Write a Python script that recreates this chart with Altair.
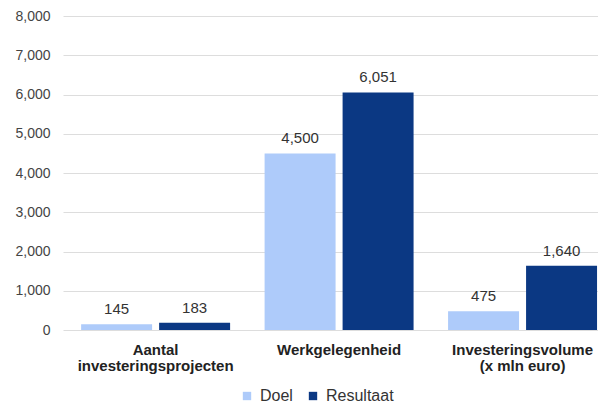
import altair as alt
import pandas as pd

categories = ["Aantal\ninvesteringsprojecten", "Werkgelegenheid", "Investeringsvolume\n(x mln euro)"]
series = ["Doel", "Resultaat"]
doel = [145, 4500, 475]
resultaat = [183, 6051, 1640]
colors = ["#AECBFA", "#0B3883"]

rows = []
for c, d, r in zip(categories, doel, resultaat):
    rows.append({"cat": c, "serie": "Doel", "value": d})
    rows.append({"cat": c, "serie": "Resultaat", "value": r})
df = pd.DataFrame(rows)

font = "Liberation Sans"

base = alt.Chart(df).encode(
    x=alt.X("cat:N", sort=categories,
            scale=alt.Scale(paddingInner=0.188, paddingOuter=0.052, align=0.95),
            axis=alt.Axis(title=None, labelAngle=0, ticks=False, domain=False,
                          labelExpr="split(datum.label, '\\n')",
                          labelFont=font, labelFontSize=15, labelFontWeight="bold",
                          labelColor="#222222", labelPadding=12, labelLineHeight=16)),
    xOffset=alt.XOffset("serie:N", sort=series, scale=alt.Scale(paddingInner=0.09)),
    y=alt.Y("value:Q", scale=alt.Scale(domain=[0, 8000]),
            axis=alt.Axis(title=None, values=list(range(0, 8001, 1000)), format=",.0f",
                          ticks=False, domain=False, labelFont=font, labelFontSize=14,
                          labelColor="#444444", labelPadding=13,
                          gridColor="#DDDDDD", gridWidth=1.2)),
)

bars = base.mark_bar().encode(
    color=alt.Color("serie:N", sort=series,
                    scale=alt.Scale(domain=series, range=colors),
                    legend=alt.Legend(title=None, orient="none", direction="horizontal",
                                      legendX=176, legendY=372, symbolType="square",
                                      symbolSize=70, symbolStrokeWidth=0,
                                      labelFont=font, labelFontSize=16,
                                      labelColor="#333333", columnPadding=12,
                                      labelOffset=5)),
)

labels = base.mark_text(baseline="bottom", dy=-7, font=font, fontSize=15,
                        color="#333333").encode(text=alt.Text("value:Q", format=",.0f"))

chart = (bars + labels).properties(
    width=535, height=314,
    autosize=alt.AutoSizeParams(type="none"),
    padding={"left": 55, "top": 8, "right": 0, "bottom": 77},
).configure_view(stroke=None)

chart.save("out.html", embed_options={"renderer": "svg", "actions": False})
